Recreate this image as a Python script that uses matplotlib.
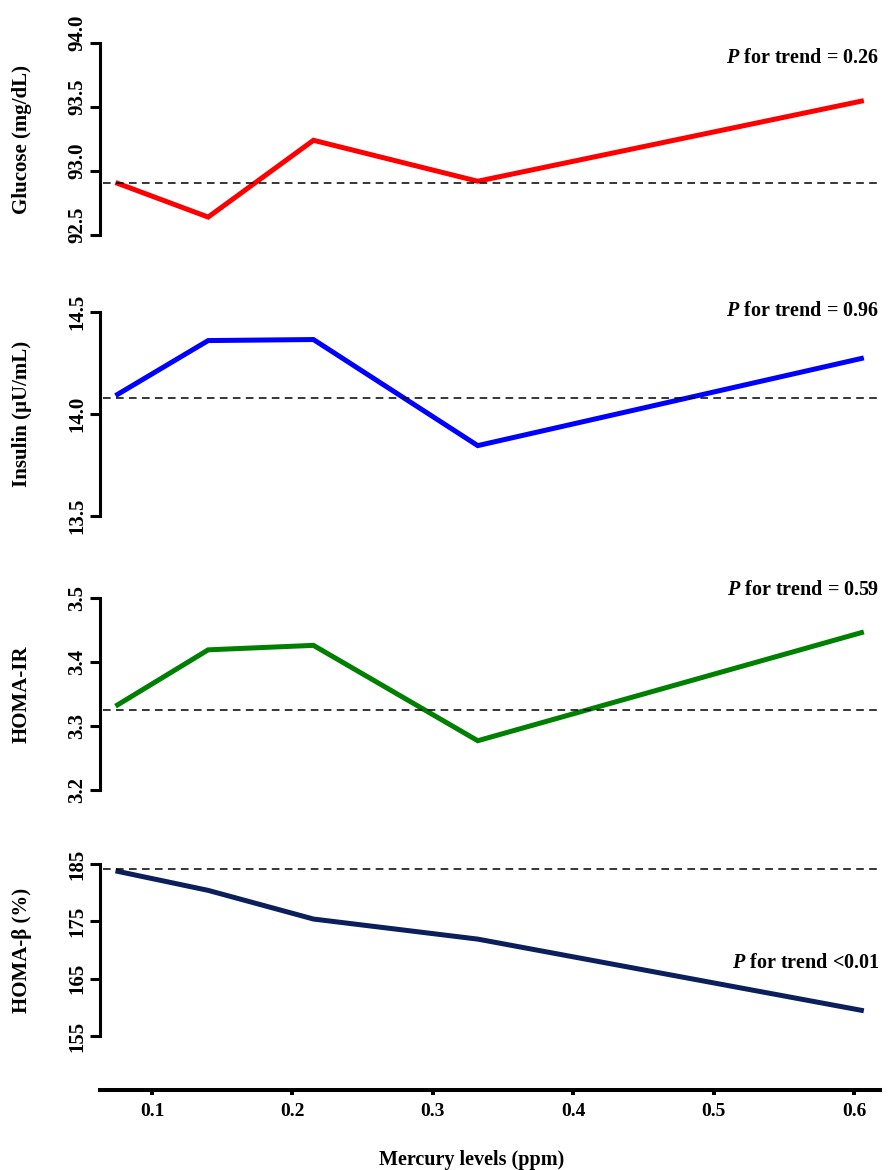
import numpy as np
import matplotlib.pyplot as plt
from matplotlib import transforms

# ── Données ───────────────────────────────────────────────────
mercury  = [0.074, 0.140, 0.215, 0.332, 0.607]
glucose  = [92.91, 92.64, 93.24, 92.92, 93.55]
insulin  = [14.09, 14.36, 14.365, 13.845, 14.275]
homa_ir  = [3.331, 3.419, 3.426, 3.277, 3.447]
homa_b   = [183.8, 180.4, 175.4, 171.9, 159.4]
ref_line = [92.91, 14.08, 3.325, 184.1]

ylabels  = ['Glucose (mg/dL)', 'Insulin (µU/mL)', 'HOMA-IR', 'HOMA-β (%)']
yticks   = [[92.5, 93.0, 93.5, 94.0],
            [13.5, 14.0, 14.5],
            [3.2, 3.3, 3.4, 3.5],
            [155, 165, 175, 185]]
ytick_fmt = ['{:.1f}', '{:.1f}', '{:.1f}', '{:.0f}']
ptrend   = ['= 0.26', '= 0.96', '= 0.59', '<0.01']
xticks   = [0.1, 0.2, 0.3, 0.4, 0.5, 0.6]
xlabel   = 'Mercury levels (ppm)'

colors = ['#ff0000', '#0000ff', '#008000', '#0a1f5c']

# ── Style ─────────────────────────────────────────────────────
plt.rcParams['font.family'] = ['Liberation Serif', 'DejaVu Serif']
plt.rcParams['font.weight'] = 'bold'
plt.rcParams['mathtext.fontset'] = 'custom'
plt.rcParams['mathtext.bfit'] = 'Liberation Serif:bold:italic'

W, H = 895, 1170
fig = plt.figure(figsize=(W / 100, H / 100), dpi=100)

# (top px, bottom px) of each panel
panels_px = [(43, 235), (312, 516), (598, 790), (864, 1090)]
left_px, right_px = 100, 880
xlim = (0.1 - 52 / 1404, 0.6 + 26 / 1404)
# text y position (axes fraction) for P labels
ptext_y = [0.922, 1.005, 1.042, 0.562]

series = [glucose, insulin, homa_ir, homa_b]

for i, (top, bot) in enumerate(panels_px):
    ax = fig.add_axes([left_px / W, (H - bot) / H,
                       (right_px - left_px) / W, (bot - top) / H])
    ax.plot(mercury, series[i], color=colors[i], lw=3.6,
            solid_joinstyle='miter', solid_capstyle='butt')
    ax.axhline(ref_line[i], xmin=0.004, xmax=1, color='black', lw=1.1,
               ls=(0, (5, 3.5)))

    lo, hi = yticks[i][0], yticks[i][-1]
    if i == 3:
        # bottom panel also carries the x axis
        per_px = (hi - lo) / (1036 - 864)
        ax.set_ylim(lo - (bot - 1036) * per_px, hi)
    else:
        ax.set_ylim(lo, hi)
    ax.set_xlim(*xlim)

    for s in ['top', 'right']:
        ax.spines[s].set_visible(False)
    ax.spines['left'].set_bounds(lo, hi)
    ax.spines['left'].set_linewidth(2.2)
    ax.set_yticks(yticks[i])
    ax.set_yticklabels([ytick_fmt[i].format(v) for v in yticks[i]])
    ax.tick_params(axis='y', length=7.2, width=2.2, labelsize=15, pad=2)
    off = transforms.ScaledTranslation(0, 10 / 100 if i == 0 else 0,
                                       fig.dpi_scale_trans)
    for lbl in ax.get_yticklabels():
        lbl.set_rotation(90)
        lbl.set_va('center')
        lbl.set_transform(lbl.get_transform() + off)

    ylo, yhi = ax.get_ylim()
    ax.set_ylabel(ylabels[i], fontsize=15, fontweight='bold')
    ax.yaxis.set_label_coords(-(left_px - 32) / (right_px - left_px),
                              (np.mean([lo, hi]) - ylo) / (yhi - ylo))

    ax.text(0.999, ptext_y[i], r'$\mathbfit{P}$ for trend ' + ptrend[i],
            transform=ax.transAxes, ha='right', va='center',
            fontsize=14.5, fontweight='bold')

    if i == 3:
        ax.spines['bottom'].set_linewidth(2.9)
        ax.set_xticks(xticks)
        ax.set_xticklabels(['{:.1f}'.format(v) for v in xticks])
        ax.tick_params(axis='x', length=3.6, width=2.9, labelsize=14, pad=6)
        ax.set_xlabel(xlabel, fontsize=14.5, fontweight='bold')
        ax.xaxis.set_label_coords((472 - left_px) / (right_px - left_px),
                                  -(1150 - 1090) / (bot - top))
    else:
        ax.spines['bottom'].set_visible(False)
        ax.set_xticks([])

fig.savefig('out.png', dpi=100)
